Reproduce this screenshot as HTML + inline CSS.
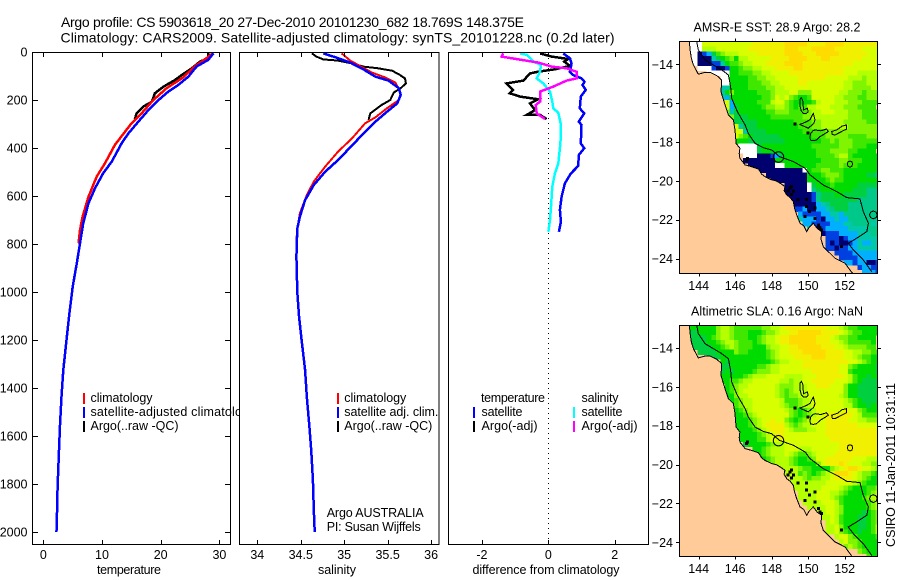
<!DOCTYPE html>
<html>
<head>
<meta charset="utf-8">
<title>Argo profile</title>
<style>
html,body{margin:0;padding:0;background:#fff;width:900px;height:580px;overflow:hidden}
svg{display:block}
text{font-family:"Liberation Sans",sans-serif;fill:#000;font-size:12.5px}
.ttl{font-size:14px}
</style>
</head>
<body>
<svg id="chart" width="900" height="580" viewBox="0 0 900 580">
<defs>
<clipPath id="clip-sst"><rect x="679.5" y="41.5" width="198" height="232"/></clipPath>
<clipPath id="clip-sla"><rect x="679.5" y="325.5" width="198" height="231"/></clipPath>
</defs>
<text class="ttl" x="61" y="27" textLength="463">Argo profile: CS 5903618_20 27-Dec-2010 20101230_682 18.769S 148.375E</text>
<text class="ttl" x="60.5" y="42.5" textLength="554">Climatology: CARS2009. Satellite-adjusted climatology: synTS_20101228.nc (0.2d later)</text>

<g id="panel-temp">
<rect x="32.5" y="52.5" width="198" height="492" fill="#fff" stroke="none"/>
<g id="temp-marks"></g>
<g id="temp-axis"></g>
<rect x="32.5" y="52.5" width="198" height="492" fill="none" stroke="#000" shape-rendering="crispEdges"/>
<rect x="83" y="393" width="2" height="11" fill="#f00"/>
<rect x="83" y="407" width="2" height="11" fill="#00f"/>
<rect x="83" y="421" width="2" height="11" fill="#000"/>
<text x="90.5" y="402" textLength="62">climatology</text>
<text x="90.5" y="416" textLength="165">satellite-adjusted climatology</text>
<text x="90.5" y="430" textLength="88">Argo(..raw -QC)</text>
<text x="129" y="574" text-anchor="middle" textLength="64">temperature</text>
</g>

<g id="panel-sal">
<rect x="239.5" y="52.5" width="199.5" height="492" fill="#fff"/>
<g id="sal-marks"></g>
<g id="sal-axis"></g>
<rect x="239.5" y="52.5" width="199.5" height="492" fill="none" stroke="#000" shape-rendering="crispEdges"/>
<rect x="337" y="393" width="2" height="11" fill="#f00"/>
<rect x="337" y="407" width="2" height="11" fill="#00f"/>
<rect x="337" y="421" width="2" height="11" fill="#000"/>
<text x="344.3" y="402" textLength="62">climatology</text>
<text x="344.3" y="416" textLength="94">satellite adj. clim.</text>
<text x="344.3" y="430" textLength="88">Argo(..raw -QC)</text>
<text x="326.7" y="517" textLength="97">Argo AUSTRALIA</text>
<text x="326.7" y="531" textLength="94">PI: Susan Wijffels</text>
<text x="337" y="574" text-anchor="middle" textLength="38">salinity</text>
</g>

<g id="panel-diff">
<rect x="448.5" y="52.5" width="200" height="492" fill="#fff"/>
<line x1="548.5" y1="53" x2="548.5" y2="544" stroke="#000" stroke-dasharray="1 4" shape-rendering="crispEdges"/>
<g id="diff-marks"></g>
<g id="diff-axis"></g>
<rect x="448.5" y="52.5" width="200" height="492" fill="none" stroke="#000" shape-rendering="crispEdges"/>
<text x="481" y="402" textLength="64">temperature</text>
<text x="581.5" y="402" textLength="37">salinity</text>
<rect x="473" y="407" width="2" height="11" fill="#00f"/>
<rect x="473" y="421" width="2" height="11" fill="#000"/>
<rect x="573" y="407" width="2" height="11" fill="#0ff"/>
<rect x="573" y="421" width="2" height="11" fill="#f0f"/>
<text x="481.5" y="416" textLength="41">satellite</text>
<text x="481.5" y="430" textLength="56">Argo(-adj)</text>
<text x="581.5" y="416" textLength="41">satellite</text>
<text x="581.5" y="430" textLength="56">Argo(-adj)</text>
<text x="546" y="574" text-anchor="middle" textLength="147">difference from climatology</text>
</g>

<g id="map-sst">
<text x="777" y="31.5" text-anchor="middle" textLength="167">AMSR-E SST: 28.9 Argo: 28.2</text>
<rect x="679.5" y="41.5" width="198" height="232" fill="#ffcc99"/>
<g id="sst-cells" clip-path="url(#clip-sst)" shape-rendering="crispEdges"></g>
<g id="sst-geo" clip-path="url(#clip-sst)"></g>
<rect x="679.5" y="41.5" width="198" height="232" fill="none" stroke="#000" shape-rendering="crispEdges"/>
<g id="sst-axis"></g>
</g>

<g id="map-sla">
<text x="777" y="315.5" text-anchor="middle" textLength="172">Altimetric SLA: 0.16 Argo: NaN</text>
<rect x="679.5" y="325.5" width="198" height="231" fill="#ffcc99"/>
<g id="sla-cells" clip-path="url(#clip-sla)" shape-rendering="crispEdges"></g>
<g id="sla-geo" clip-path="url(#clip-sla)"></g>
<rect x="679.5" y="325.5" width="198" height="231" fill="none" stroke="#000" shape-rendering="crispEdges"/>
<g id="sla-axis"></g>
</g>

<text transform="translate(895,547) rotate(-90)" textLength="164">CSIRO 11-Jan-2011 10:31:11</text>
</svg>

<script>
// ---------- profile data ----------
const depthTicks = [0, 200, 400, 600, 800, 1000, 1200, 1400, 1600, 1800, 2000];
const tempTicks = [0, 10, 20, 30];
const salTicks = [34, 34.5, 35, 35.5, 36];
const salTickLabels = ['34', '34.5', '35', '35.5', '36'];
const diffTicks = [-2, 0, 2];
const diffTickLabels = ['-2', '0', '2'];

const tempClimDepth = [5, 26, 54, 110, 151, 200, 262, 304, 387, 464, 519, 603, 686, 742, 797];
const tempClimValue = [28.9, 27.8, 26.1, 23.6, 21.0, 18.75, 16.5, 14.8, 12.2, 10.5, 9.1, 7.7, 6.7, 6.25, 6.0];
const tempSatDepth = [5, 33, 61, 103, 137, 165, 207, 242, 290, 339, 380, 457, 505, 568, 630, 714, 797, 880, 978, 1100, 1200, 1325, 1436, 1554, 1658, 1811, 1992, 2000];
const tempSatValue = [29.0, 28.1, 26.1, 24.7, 23.0, 21.3, 19.3, 17.9, 16.2, 14.5, 13.35, 11.65, 10.2, 8.8, 7.7, 6.8, 6.25, 5.7, 5.0, 4.4, 3.95, 3.4, 3.1, 2.85, 2.67, 2.44, 2.27, 2.2];
const tempArgoDepth = [5, 26, 40, 68, 96, 117, 144, 172, 207, 228, 256, 280];
const tempArgoValue = [28.1, 28.1, 26.7, 25.3, 23.6, 22.4, 20.5, 19.0, 18.5, 17.0, 15.9, 15.6];

const salClimDepth = [6, 36, 58, 86, 106, 128, 172, 200, 235, 272, 297, 360, 415, 478, 540, 596, 672, 735, 783];
const salClimValue = [34.97, 35.07, 35.18, 35.32, 35.47, 35.59, 35.65, 35.63, 35.49, 35.36, 35.24, 35.09, 34.93, 34.78, 34.65, 34.57, 34.49, 34.46, 34.45];
const salSatDepth = [6, 22, 44, 72, 103, 119, 151, 179, 214, 256, 290, 325, 397, 450, 499, 554, 617, 686, 735, 853, 1000, 1100, 1200, 1325, 1436, 1561, 1658, 1783, 1908, 1999];
const salSatValue = [34.76, 34.90, 35.07, 35.22, 35.36, 35.51, 35.63, 35.65, 35.61, 35.47, 35.36, 35.26, 35.07, 34.93, 34.78, 34.65, 34.55, 34.49, 34.46, 34.45, 34.46, 34.48, 34.51, 34.55, 34.57, 34.60, 34.62, 34.64, 34.65, 34.66];
const salArgoDepth = [6, 19, 31, 36, 50, 61, 68, 78, 93, 110, 131, 151, 169, 200, 221, 256, 283];
const salArgoValue = [34.63, 34.68, 34.76, 34.93, 35.12, 35.22, 35.39, 35.55, 35.63, 35.70, 35.71, 35.65, 35.57, 35.53, 35.43, 35.30, 35.28];

const diffTempSatDepth = [6, 26, 47, 82, 96, 110, 124, 138, 158, 186, 235, 256, 290, 304, 381, 401, 429, 475, 506, 547, 603, 658, 707, 749];
const diffTempSatValue = [0.45, 0.65, 0.70, 0.65, 0.75, 1.0, 1.09, 1.03, 1.13, 0.98, 0.95, 1.08, 0.92, 1.0, 0.98, 1.08, 0.92, 0.90, 0.68, 0.50, 0.40, 0.35, 0.38, 0.32];
const diffSalSatDepth = [6, 12, 40, 54, 82, 110, 131, 165, 207, 235, 253, 297, 353, 401, 464, 506, 561, 644, 700, 749];
const diffSalSatValue = [-0.85, -0.65, -0.45, -0.22, -0.25, -0.35, -0.15, 0.05, 0.12, 0.15, 0.30, 0.37, 0.38, 0.35, 0.30, 0.20, 0.12, 0.08, 0.05, 0];
const diffTempArgoDepth = [6, 19, 29, 40, 58, 72, 82, 89, 119, 131, 158, 172, 186, 197, 214, 242, 262, 262, 279];
const diffTempArgoValue = [-0.25, 0.10, 0.60, 0.48, 0.65, 0.20, -0.30, -0.55, -0.75, -1.26, -1.06, -1.16, -0.85, -0.30, -0.55, -0.40, -0.65, -0.25, -0.05];
const diffSalArgoDepth = [6, 19, 33, 44, 61, 68, 82, 110, 119, 144, 165, 207, 221, 256, 279];
const diffSalArgoValue = [-1.36, -1.41, -0.80, -0.30, 0.10, 0.55, 0.85, 0.85, 0.55, 0.15, -0.25, -0.25, -0.38, -0.35, -0.10];

// ---------- map data ----------
const lonTicks = [144, 146, 148, 150, 152];
const latTicks = [-14, -16, -18, -20, -22, -24];
const latTickLabels = ['\u221214', '\u221216', '\u221218', '\u221220', '\u221222', '\u221224'];
const profileLon = 148.375;
const profileLat = -18.769;

const coastLon = [143.49, 143.53, 143.60, 143.71, 143.98, 144.35, 144.62, 144.99, 145.26, 145.22, 145.44, 145.63, 145.90, 145.99, 146.05, 146.26, 146.22, 146.26, 146.54, 146.90, 147.27, 147.45, 147.63, 148.00, 148.25, 148.46, 148.73, 148.68, 148.82, 149.00, 149.19, 149.25, 149.37, 149.55, 149.75, 149.92, 150.05, 150.28, 150.50, 150.74, 150.70, 150.83, 151.10, 151.47, 152.02, 152.38, 152.50, 142.90, 142.90];
const coastLat = [-12.83, -13.26, -13.70, -14.03, -14.51, -14.41, -14.41, -14.58, -14.81, -15.41, -16.09, -16.61, -16.86, -17.38, -18.07, -18.32, -18.60, -18.84, -19.18, -19.27, -19.39, -19.65, -19.78, -19.95, -20.00, -20.12, -20.29, -20.50, -20.72, -20.85, -21.07, -21.40, -21.75, -22.18, -22.30, -22.61, -22.40, -22.18, -22.45, -22.61, -23.00, -23.38, -23.64, -23.98, -24.24, -24.70, -24.80, -24.80, -12.80];
const contourLon = [143.89, 143.98, 144.35, 144.80, 145.26, 145.63, 145.75, 145.81, 146.12, 146.54, 146.72, 147.09, 147.54, 148.00, 148.42, 149.19, 149.83, 150.10, 150.83, 151.56, 152.11, 152.84, 153.02, 153.30, 153.21, 152.66, 152.20, 152.47, 153.02, 153.48];
const contourLat = [-12.83, -13.26, -13.78, -14.03, -14.29, -14.55, -15.15, -15.75, -16.44, -17.12, -17.55, -18.07, -18.29, -18.41, -18.75, -19.01, -19.35, -19.69, -20.21, -20.55, -20.86, -20.93, -21.58, -22.18, -22.61, -22.95, -23.21, -23.55, -24.07, -24.67];
const reefALon = [149.55, 149.62, 149.70, 149.72, 149.75, 149.95, 150.00, 149.90, 149.73, 149.62, 149.55];
const reefALat = [-15.80, -15.72, -15.85, -16.10, -16.35, -16.26, -16.44, -16.52, -16.52, -16.40, -16.15];
const reefBLon = [149.55, 149.75, 149.92, 150.10, 150.28, 150.37, 150.30, 150.00, 149.80, 149.59];
const reefBLat = [-17.09, -17.02, -16.95, -16.85, -16.52, -16.86, -17.05, -17.29, -17.20, -17.12];
const reefCLon = [150.14, 150.25, 150.37, 150.70, 151.01, 151.10, 150.90, 150.65, 150.45, 150.28, 150.12, 150.10];
const reefCLat = [-17.55, -17.42, -17.38, -17.42, -17.33, -17.46, -17.58, -17.72, -17.90, -17.93, -17.90, -17.72];
const reefDLon = [151.29, 151.60, 151.85, 152.11, 152.11, 151.85, 151.47, 151.32];
const reefDLat = [-17.46, -17.36, -17.18, -17.12, -17.33, -17.45, -17.64, -17.62];
const reefELon = [152.29, 152.40, 152.43, 152.40, 152.29, 152.18, 152.15, 152.18];
const reefELat = [-18.98, -19.02, -19.13, -19.25, -19.30, -19.25, -19.13, -19.02];
const reefFLon = [153.57, 153.72, 153.78, 153.72, 153.57, 153.42, 153.36, 153.42];
const reefFLat = [-21.55, -21.61, -21.75, -21.89, -21.95, -21.89, -21.75, -21.61];
const speckLon = [149.19, 149.92, 146.54, 146.59, 148.91, 149.00, 148.82, 149.10, 149.00, 149.37, 149.83, 149.83, 150.28, 149.73, 150.28, 150.00, 150.56, 150.47, 150.65, 151.74];
const speckLat = [-17.00, -17.47, -18.84, -18.76, -20.30, -20.20, -20.45, -20.45, -20.62, -20.88, -20.88, -21.24, -21.33, -21.76, -21.85, -21.50, -22.36, -22.19, -22.45, -23.30];

// Level codes for each 0.25 degree cell, north to south, west to east.
// '.' = land/no data, w = no satellite data, n,b,s,t,a,e,g,h,l,m,y,Y,o = cold to warm
const sstRows = [
"..wwwyyyyyyyyyyyYYYYYYYoooooYYYYooooYYYYYYYYYY",
"..wwwmmmyyyyyyyYYYYYYYYoooYYYoooooYYYYYYyyyy",
"..wwnbsehlmmmyyyyYYYYYYooooYYYoooooYYYYYYyyyy",
"..wwnnnteghlgmmyyyyyYYYYooooYYYooYYYYYYYyyyyy",
"..wwnnnbbtghhlmmyyyYYYYooooYYYYYYYYYYYyyyyyy",
"....wwwbnnbgghllmmyyyYYYYooYYYYYYYYYyyyyyyyyy",
"......wwwwwgghhhllmmyyyyYYYYYYYYYYYYyyymmmmmm",
".........wwgggghhllmmyyyyyYYYYYYyyyyymmmlmmmm",
".........wwgggghhhllmmyyyyYYyyyyyyyymmlllmmmm",
".........ttgggghhhhllmmyyyyyyyyyyyyymmllllmm",
".........tglggggghhhlmmmyylllyyyyyymmlllhllll",
".........tsggggggghhlymylhgghyyyyymmlllhhlll",
"..........ysggggghhhmyylhgggghmyyymmmlllhhhh",
"..........yseggggghllmmlhghhmmyyymmmlllhhhh",
"..........ltegggggghhlllhhhhlmmyyymmmlllhhhh",
"...........leeeggggghhhhhhhllmmmmmmmmlllhhhh",
"...........heeeeegggggggghhhhllmmmmmlllllhhh",
"............yteeeggggggggghhhllmmmmmmlllllll",
"............yyteeeegggggggghhhhhllllllllllll",
"............ylhgeeeeeeggggggghhhlllllhhhhlll",
"............gggeeeeeeeegggggggghhlhlllhhhhhhh",
".............wwwweggggggggggghhhhhhlllhhhggg",
".............wwwwegggggggggggghhhllllhhgggg",
"..............wwwnnnbseggggggghhhhlmmhgggggg",
"..............nnnnnnngggggggggghhhhllhhhggggg",
"...............nnnnnnwwggggggghhhhhlhhhggggg",
".................nnnnnnnnnnwghhllhhhgggggggg",
"...................nnnnnnnnnggghlllhgggggeea",
"....................nnnnnnnngggghlhhgggggggg",
".......................nnnnnweggghgggggeeeee",
".......................nnnnnwaegggggggeeeaaa",
".......................nnnnnnbaeeeggeeeeeaaa",
"........................nnnnnbaeeeeeeeeaaaaa",
".........................nnnnnstaeeeeaaaaaaa",
".........................bbsnnsstaeeeaaaaaaa",
"..........................sbbbbssttsaaaaaaaa",
"..........................tsssbnsstssaaaaaatt",
"...........................ssbbbbsssttaaaatt",
"............................tsnbsssssttttaaa",
"...............................nbbbsssstttaa",
"................................bbbnbssttttt",
"................................bnbnnbstsstt",
"................................bbnbbssttttt",
"..................................bbbbsssssst",
"...................................bbbbssssss",
"....................................ssbssnnbb",
".......................................bssbbnb",
"........................................sssbsnb"
];

const slaRows = [
"..gggggglmmlhhhhhhllmmyYYYYYYYYYyyymlhhggggg",
"..eegggglmmlhhhggghllmyyYYoooooYYYYymlhhggggg",
"..eeeeghlmmlhhhgghlmmyYYooooooYYYymllhhgggg",
"..eeeegghlmmlhhhghlmmyYYooooooYYYyymlhhhhhg",
"...eeeegghlmlhhhggglmmyyYYoooooYYYyymllllhh",
"....eeeegggglhhgggghlmyyYYYoooooYYYYyymmllhhg",
"......eeegggggggggghlmyyyYYYYoooYYYYyymlhhggg",
".........geggggggggghlmmyyyYYYYYYYYYYyymlhgggge",
".........eegggggghhlmmyyyyyYYYYYYYYyylhggggee",
".........egegggghlllmmyyyyyyyYYYYYYyyhgggggeee",
".........ggggghlmmmyyyymmmmyyyYYYYYYymhggeggeee",
".........gghhlmmyyyyyymmlmmyyYYYYYyyymhgeeeeee",
"..........ghlmmyyyyyymlllmmmyyYYYyyylggeeeeee",
"..........ghlmyyyyyyymlhlmmmyyyyyyyylggeeeeee",
"..........gglmmyyyyyymlhllmmyyyyyyymlggeeeeee",
"...........ghlmmyyyyyymhhhlmmyyyyyyymlhgeeeee",
"...........ghlmmyyyyyymlhhlmmyyyyyyymmhggeggg",
"............ghlmyyyyyyymlhghlmyyyyyyYyylhggggg",
"............gghlmyyyyyyylhghlmyyYYYYYYymhhhhhl",
"............ggghlmyyYyylhghlmyyyYYYYYyymmlllll",
"............ggghlmyYYYYmlhlmmyyyYYYYYYYyyyyyy",
"............gggghlmyYYYymlllmmyyYYYYYYYYYYYYY",
".............gggghlmyYYyyyyyyyyyYYYYYYYYYYYYY",
".............gggghhmyyYyyyyyyyyyyYYYYYYYYYYYY",
"..............egggghlmmyyyyyyyyyyyyYYYYYYYYYY",
"................gghlmmmyyymmmyyyyyyYYYYYYYYYY",
".................ghlmmmymlhhlmyyyyYYYYYYYYYY",
"..................ghlmmmlhgghlyyYYYYYYyyymmmm",
"...................hlmmmlhgggglyYYYoYyyymmll",
"......................mmmmlhhgggglmyYooYyymlhh",
".......................mmmhlhghlmyoooYymllhg",
"........................mmmlhllmmyYYYYymlhggg",
"........................mmmmmmmmyyyyyymlhggg",
".........................mmmmmmyyyymlhggghhl",
"..........................mmmmyyymmlhgggghlm",
"..........................mmmmyyymlhgggghlmy",
"...........................mmmmyyymhggggghlm",
"............................mmmmyymlggggghlm",
".............................mmmyymlggggeghl",
"...............................mmymhgggeeghl",
"................................mymhgggeeghl",
"................................mmylgggeeghm",
"................................mmylhggegghm",
"..................................myylhgggghm",
"...................................myllhggggh",
"....................................lmlhgggggh",
".......................................lhggggg",
".........................................hgg"
];

const NS = 'http://www.w3.org/2000/svg';
const levelCodes = 'wnbstaeghlmyYo';
const levelColors = ['#ffffff', '#00006e', '#0040e0', '#00b0ff', '#00c8a8', '#00c888', '#00d040', '#00dc00', '#40e800', '#80f400', '#b4ff00', '#d8ff00', '#f0f000', '#ffdc00'];

// ---------- axis functions ----------
function yDepth(d) { return 52 + d * 0.24; }
function xTemp(t) { return 43.3 + t * 5.87; }
function xSal(s) { return 257.3 + (s - 34) * 86.9; }
function xDiff(v) { return 548.3 + v * 33.2; }
function lonX(lon) { return 698.7 + (lon - 144) * 18.25; }
function latY(lat, off) { return 64.3 + off + (-14 - lat) * 19.43; }

function add(parentId, tag, props) {
  const el = document.createElementNS(NS, tag);
  for (const k in props) el.setAttribute(k, props[k]);
  document.getElementById(parentId).appendChild(el);
  return el;
}

function profile(parentId, xFn, values, depths, color, width, name) {
  const pts = values.map(function (v, i) { return xFn(v).toFixed(1) + ',' + yDepth(depths[i]).toFixed(1); }).join(' ');
  const el = add(parentId, 'polyline', { points: pts, fill: 'none', stroke: color, 'stroke-width': width, 'shape-rendering': 'crispEdges' });
  
  
}

function tickLine(parentId, x1, y1, x2, y2, name) {
  const el = add(parentId, 'line', { x1: x1, y1: y1, x2: x2, y2: y2, stroke: '#000', 'shape-rendering': 'crispEdges' });
  
  
}

function tickText(parentId, x, y, anchor, str, name) {
  const el = add(parentId, 'text', { x: x, y: y, 'text-anchor': anchor });
  el.textContent = str;
  
  
}

function xAxis(parentId, ticks, labels, xFn, prefix) {
  ticks.forEach(function (t, i) {
    const x = Math.round(xFn(t)) + 0.5;
    tickLine(parentId, x, 53, x, 57, prefix + '-top-tick');
    tickLine(parentId, x, 540, x, 544, prefix + '-bottom-tick');
    tickText(parentId, xFn(t), 559, 'middle', labels[i], prefix + '-tick-label');
  });
}

// ---------- temperature panel ----------
xAxis('temp-axis', tempTicks, tempTicks.map(String), xTemp, 'temperature-x');
depthTicks.forEach(function (d) {
  const y = Math.round(yDepth(d)) + 0.5;
  tickLine('temp-axis', 33, y, 38, y, 'depth-left-tick');
  tickLine('temp-axis', 225, y, 230, y, 'depth-right-tick');
  tickText('temp-axis', 27.5, yDepth(d) + 4.5, 'end', String(d), 'depth-tick-label');
});
profile('temp-marks', xTemp, tempArgoValue, tempArgoDepth, '#000', 2.5, 'temperature-argo-line');
profile('temp-marks', xTemp, tempClimValue, tempClimDepth, '#f00', 2.5, 'temperature-climatology-line');
profile('temp-marks', xTemp, tempSatValue, tempSatDepth, '#00f', 2.5, 'temperature-satellite-line');

// ---------- salinity panel ----------
xAxis('sal-axis', salTicks, salTickLabels, xSal, 'salinity-x');
profile('sal-marks', xSal, salArgoValue, salArgoDepth, '#000', 2, 'salinity-argo-line');
profile('sal-marks', xSal, salClimValue, salClimDepth, '#f00', 2, 'salinity-climatology-line');
profile('sal-marks', xSal, salSatValue, salSatDepth, '#00f', 2.5, 'salinity-satellite-line');

// ---------- difference panel ----------
xAxis('diff-axis', diffTicks, diffTickLabels, xDiff, 'difference-x');
profile('diff-marks', xDiff, diffTempArgoValue, diffTempArgoDepth, '#000', 2.5, 'difference-temp-argo-line');
profile('diff-marks', xDiff, diffTempSatValue, diffTempSatDepth, '#00f', 2.5, 'difference-temp-satellite-line');
profile('diff-marks', xDiff, diffSalSatValue, diffSalSatDepth, '#0ff', 2.5, 'difference-sal-satellite-line');
profile('diff-marks', xDiff, diffSalArgoValue, diffSalArgoDepth, '#f0f', 2.5, 'difference-sal-argo-line');

// ---------- maps ----------
function geoLine(parentId, lons, lats, off, closed, fill, name) {
  const pts = lons.map(function (v, i) { return lonX(v).toFixed(1) + ',' + latY(lats[i], off).toFixed(1); }).join(' ');
  const el = add(parentId, closed ? 'polygon' : 'polyline', { points: pts, fill: fill, stroke: '#000', 'shape-rendering': 'crispEdges' });
  
  
}

function drawMap(rows, off, prefix, top, bottom, lonLabelY) {
  rows.forEach(function (row, r) {
    for (let c = 0; c < row.length; c++) {
      const idx = levelCodes.indexOf(row[c]);
      if (idx < 0) continue;
      const lon = 142.94 + c * 0.25;
      const lat = -12.83 - r * 0.25;
      const x0 = lonX(lon), x1 = lonX(lon + 0.25), y0 = latY(lat, off), y1 = latY(lat - 0.25, off);
      const el = add(prefix + '-cells', 'rect', { x: x0.toFixed(1), y: y0.toFixed(1), width: (x1 - x0 + 0.3).toFixed(2), height: (y1 - y0 + 0.3).toFixed(2), fill: levelColors[idx] });
      
      
    }
  });
  const g = prefix + '-geo';
  geoLine(g, coastLon, coastLat, off, true, '#ffcc99', 'coastline');
  geoLine(g, contourLon, contourLat, off, false, 'none', 'bathymetry-contour');
  geoLine(g, reefALon, reefALat, off, true, 'none', 'reef-outline');
  geoLine(g, reefBLon, reefBLat, off, true, 'none', 'reef-outline');
  geoLine(g, reefCLon, reefCLat, off, true, 'none', 'reef-outline');
  geoLine(g, reefDLon, reefDLat, off, true, 'none', 'reef-outline');
  geoLine(g, reefELon, reefELat, off, true, 'none', 'reef-outline');
  geoLine(g, reefFLon, reefFLat, off, true, 'none', 'reef-outline');
  speckLon.forEach(function (lon, i) {
    const el = add(g, 'rect', { x: lonX(lon).toFixed(1), y: latY(speckLat[i], off).toFixed(1), width: 3, height: 3, fill: '#000', 'shape-rendering': 'crispEdges' });
    
    
  });
  const marker = add(g, 'circle', { cx: lonX(profileLon).toFixed(1), cy: latY(profileLat, off).toFixed(1), r: 5.2, fill: 'none', stroke: '#000' });
  
  

  const a = prefix + '-axis';
  lonTicks.forEach(function (lon) {
    const x = Math.round(lonX(lon)) + 0.5;
    tickLine(a, x, top - 3, x, top, 'longitude-top-tick');
    tickLine(a, x, bottom, x, bottom + 3, 'longitude-bottom-tick');
    tickText(a, lonX(lon), lonLabelY, 'middle', String(lon), 'longitude-tick-label');
  });
  latTicks.forEach(function (lat, i) {
    const y = Math.round(latY(lat, off)) + 0.5;
    tickLine(a, 676, y, 679, y, 'latitude-left-tick');
    tickLine(a, 878, y, 881, y, 'latitude-right-tick');
    tickText(a, 673, latY(lat, off) + 4.5, 'end', latTickLabels[i], 'latitude-tick-label');
  });
}

drawMap(sstRows, 0, 'sst', 41.5, 273.5, 290);
drawMap(slaRows, 283.7, 'sla', 325.5, 556.5, 573);
</script>
</body>
</html>
